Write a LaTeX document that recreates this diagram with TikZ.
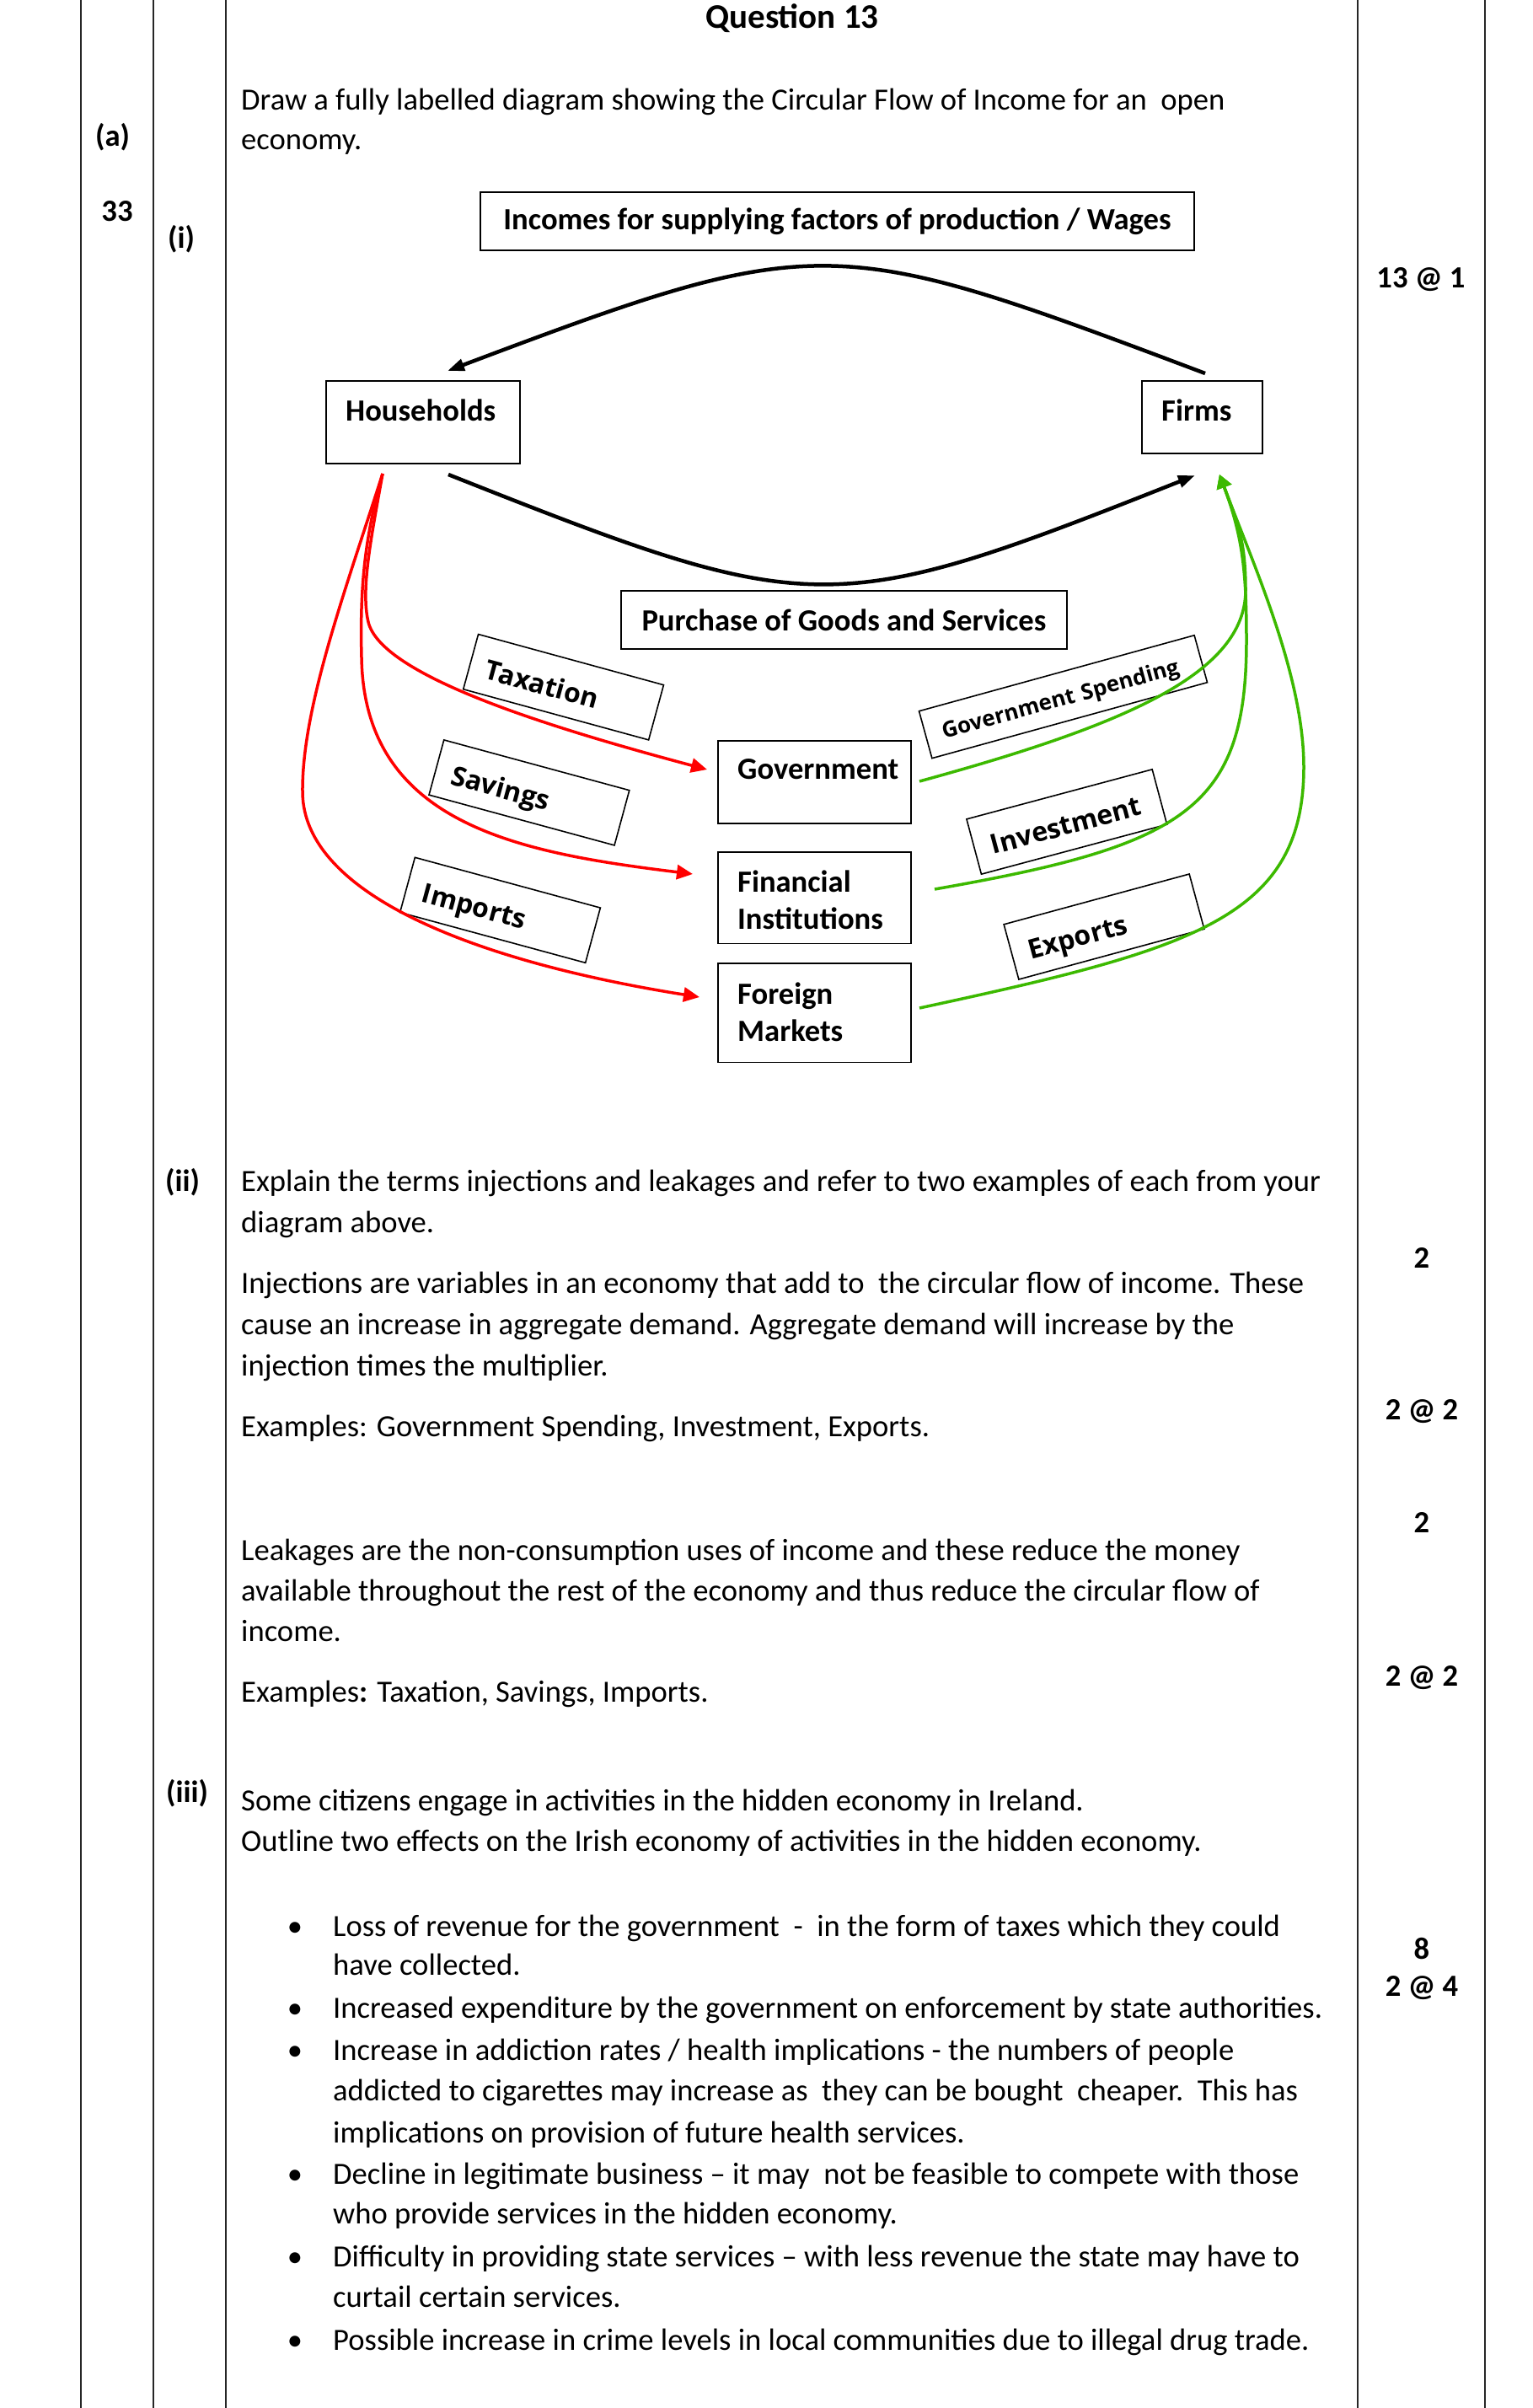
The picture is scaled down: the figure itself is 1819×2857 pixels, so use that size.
\documentclass[tikz,border=0pt]{standalone}
\usepackage{fontspec}
\setmainfont{Carlito}
\newfontfamily\osans{Open Sans}
\usetikzlibrary{arrows.meta}
\definecolor{grn}{RGB}{60,185,0}
\definecolor{rd}{RGB}{255,0,0}
\begin{document}
\begin{tikzpicture}[x=1pt,y=-1pt]
\tikzset{
 tline/.style={line width=2pt, black!85},
 box/.style={draw, line width=1.8pt, inner sep=0pt},
 lbl/.style={anchor=base west, inner sep=0pt, font=\bfseries\fontsize{36.6}{44}\selectfont},
 ctr/.style={font=\bfseries\fontsize{36.6}{44}\selectfont},
 body/.style={anchor=base west, inner sep=0pt, font=\fontsize{36.6}{49}\selectfont},
 mk/.style={anchor=base, inner sep=0pt, font=\bfseries\fontsize{36.6}{49}\selectfont},
 rbox/.style={draw, line width=1.6pt, inner xsep=20pt, inner ysep=0pt, align=left, text width=188pt,
   font=\osans\bfseries\fontsize{32}{38}\selectfont, text height=48.8pt, text depth=18.8pt},
 blk/.style={line width=4.5pt, -{Triangle[length=20pt,width=14pt]}},
 rdarr/.style={rd, line width=3.5pt, -{Triangle[length=19pt,width=17pt]}},
 grarr/.style={grn, line width=3.5pt, -{Triangle[length=16pt,width=18pt]}},
}
\useasboundingbox (0,0) rectangle (1819,2857);
\fill[white] (0,0) rectangle (1819,2857);

% table lines
\draw[tline] (96,0) -- (96,2857);
\draw[tline] (182,0) -- (182,2857);
\draw[tline] (268,0) -- (268,2857);
\draw[tline] (1611,0) -- (1611,2857);
\draw[tline] (1762,0) -- (1762,2857);

% heading and left column
\node[anchor=base, inner sep=0pt, font=\bfseries\fontsize{41}{49}\selectfont] (title) at (940,33) {Question 13};
\node[lbl] (la) at (113,173) {(a)};
\node[mk] (l33) at (139,262) {33};
\node[lbl] (li) at (199,294) {(i)};
\node[lbl] (lii) at (196,1413) {(ii)};
\node[lbl] (liii) at (197,2138) {(iii)};

% marks
\node[mk] (m1) at (1686,341) {13 @ 1};
\node[mk] (m2) at (1687,1504) {2};
\node[mk] (m3) at (1687,1684) {2 @ 2};
\node[mk] (m4) at (1687,1818) {2};
\node[mk] (m5) at (1687,2000) {2 @ 2};
\node[mk] (m6) at (1687,2324) {8};
\node[mk] (m7) at (1687,2368) {2 @ 4};

% question text
\node[body] (t1) at (286,130) {Draw a fully labelled diagram showing the Circular Flow of Income for an\ \ open};
\node[body] (t2) at (286,177) {economy.};

% diagram boxes
\node[box, ctr, minimum width=847pt, minimum height=69pt] (inc) at (993.5,262.5) {Incomes for supplying factors of production / Wages};
\node[box, minimum width=230pt, minimum height=98pt, anchor=north west] (hh) at (386,451) {};
\node[lbl] (hht) at (410,499) {Households};
\node[box, minimum width=143pt, minimum height=86pt, anchor=north west] (fm) at (1354,451) {};
\node[lbl] (fmt) at (1378,499) {Firms};
\node[box, ctr, minimum width=529pt, minimum height=69pt] (pur) at (1001.5,735.5) {Purchase of Goods and Services};
\node[box, minimum width=229pt, minimum height=98pt, anchor=north west] (gov) at (851,878) {};
\node[lbl] (govt) at (875,924) {Government};
\node[box, minimum width=229pt, minimum height=108.5pt, anchor=north west] (fin) at (851,1010) {};
\node[lbl] (fint1) at (875,1058) {Financial};
\node[lbl] (fint2) at (875,1102) {Institutions};
\node[box, minimum width=229pt, minimum height=117.5pt, anchor=north west] (for) at (851,1142) {};
\node[lbl] (fort1) at (875,1191) {Foreign};
\node[lbl] (fort2) at (875,1235) {Markets};

% rotated labels
\node[rbox, rotate=-15.3] (taxb) at (668.6,815.2) {Taxation};
\node[rbox, rotate=-15.2] (savb) at (627.9,940.4) {Savings};
\node[rbox, rotate=-15.2] (impb) at (593.5,1079.8) {Imports};
\node[rbox, rotate=15.4, text width=298.8pt, font=\osans\bfseries\fontsize{26}{31}\selectfont,
      text height=39.5pt, text depth=18.5pt] (gsb) at (1261.5,826.7) {Government Spending};
\node[rbox, rotate=15.0] (invb) at (1265.8,975) {Investment};
\node[rbox, rotate=15.2] (expb) at (1310,1099.5) {Exports};

% connector end points
\coordinate (fmTop) at (1430,443);
\coordinate (hhTop) at (531,440);
\coordinate (hhBot) at (532,563);
\coordinate (fmBot) at (1418,564);
\coordinate (hhOut) at (454,562);
\coordinate (fmIn) at (1447,563);
\coordinate (taxE) at (839,913);
\coordinate (savE) at (822,1037);
\coordinate (impE) at (830,1183);
\coordinate (gsS) at (1091,927);
\coordinate (invS) at (1109,1055);
\coordinate (expS) at (1091,1196);

% black flows
\draw[blk] (fmTop) .. controls (987,276) and (974,273) .. (hhTop);
\draw[blk] (hhBot) .. controls (966,735) and (984,736) .. (fmBot);

% leakages
\draw[rdarr] (hhOut) .. controls (440,640) and (428,700) .. (437,738) .. controls (452,800) and (640,860) .. (taxE);
\draw[rdarr] (hhOut) .. controls (432,640) and (427,700) .. (429,780) .. controls (432,980) and (620,1012) .. (savE);
\draw[rdarr] (hhOut) .. controls (410,700) and (358,840) .. (359,940) .. controls (360,1060) and (560,1140) .. (impE);

% injections
\draw[grarr] (gsS) .. controls (1332,861) and (1478,800) .. (1478,700) .. controls (1478,640) and (1468,619.2) .. (fmIn);
\draw[grarr] (invS) .. controls (1404.5,1003.4) and (1479,960) .. (1479,760) .. controls (1479,680) and (1475,638) .. (fmIn);
\draw[grarr] (expS) .. controls (1413.7,1126.4) and (1547,1090) .. (1547,910) .. controls (1547,800) and (1485.5,666) .. (fmIn);

% part (ii)
\node[body] (t3) at (286,1413) {Explain the terms injections and leakages and refer to two examples of each from your};
\node[body] (t4) at (286,1462) {diagram above.};
\node[body] (t5) at (286,1534) {Injections are variables in an economy that add to\ \ the circular flow of income. These};
\node[body] (t6) at (286,1583) {cause an increase in aggregate demand. Aggregate demand will increase by the};
\node[body] (t7) at (286,1632) {injection times the multiplier.};
\node[body] (t8) at (286,1704) {Examples: Government Spending, Investment, Exports.};
\node[body] (t9) at (286,1851) {Leakages are the non-consumption uses of income and these reduce the money};
\node[body] (t10) at (286,1899) {available throughout the rest of the economy and thus reduce the circular flow of};
\node[body] (t11) at (286,1947) {income.};
\node[body] (t12) at (286,2019) {Examples\textbf{:} Taxation, Savings, Imports.};

% part (iii)
\node[body] (t13) at (286,2148) {Some citizens engage in activities in the hidden economy in Ireland.};
\node[body] (t14) at (286,2196) {Outline two effects on the Irish economy of activities in the hidden economy.};
\node[body] (b1) at (395,2297) {\llap{\textbullet\hspace{36pt}}Loss of revenue for the government\ \ -\ \ in the form of taxes which they could};
\node[body] (b1b) at (395,2343) {have collected.};
\node[body] (b2) at (395,2394) {\llap{\textbullet\hspace{36pt}}Increased expenditure by the government on enforcement by state authorities.};
\node[body] (b3) at (395,2444) {\llap{\textbullet\hspace{36pt}}Increase in addiction rates / health implications - the numbers of people};
\node[body] (b3b) at (395,2492) {addicted to cigarettes may increase as\ \ they can be bought\ \ cheaper.\ \ This has};
\node[body] (b3c) at (395,2542) {implications on provision of future health services.};
\node[body] (b4) at (395,2591) {\llap{\textbullet\hspace{36pt}}Decline in legitimate business – it may\ \ not be feasible to compete with those};
\node[body] (b4b) at (395,2638) {who provide services in the hidden economy.};
\node[body] (b5) at (395,2689) {\llap{\textbullet\hspace{36pt}}Difficulty in providing state services – with less revenue the state may have to};
\node[body] (b5b) at (395,2737) {curtail certain services.};
\node[body] (b6) at (395,2788) {\llap{\textbullet\hspace{36pt}}Possible increase in crime levels in local communities due to illegal drug trade.};
\end{tikzpicture}
\end{document}
